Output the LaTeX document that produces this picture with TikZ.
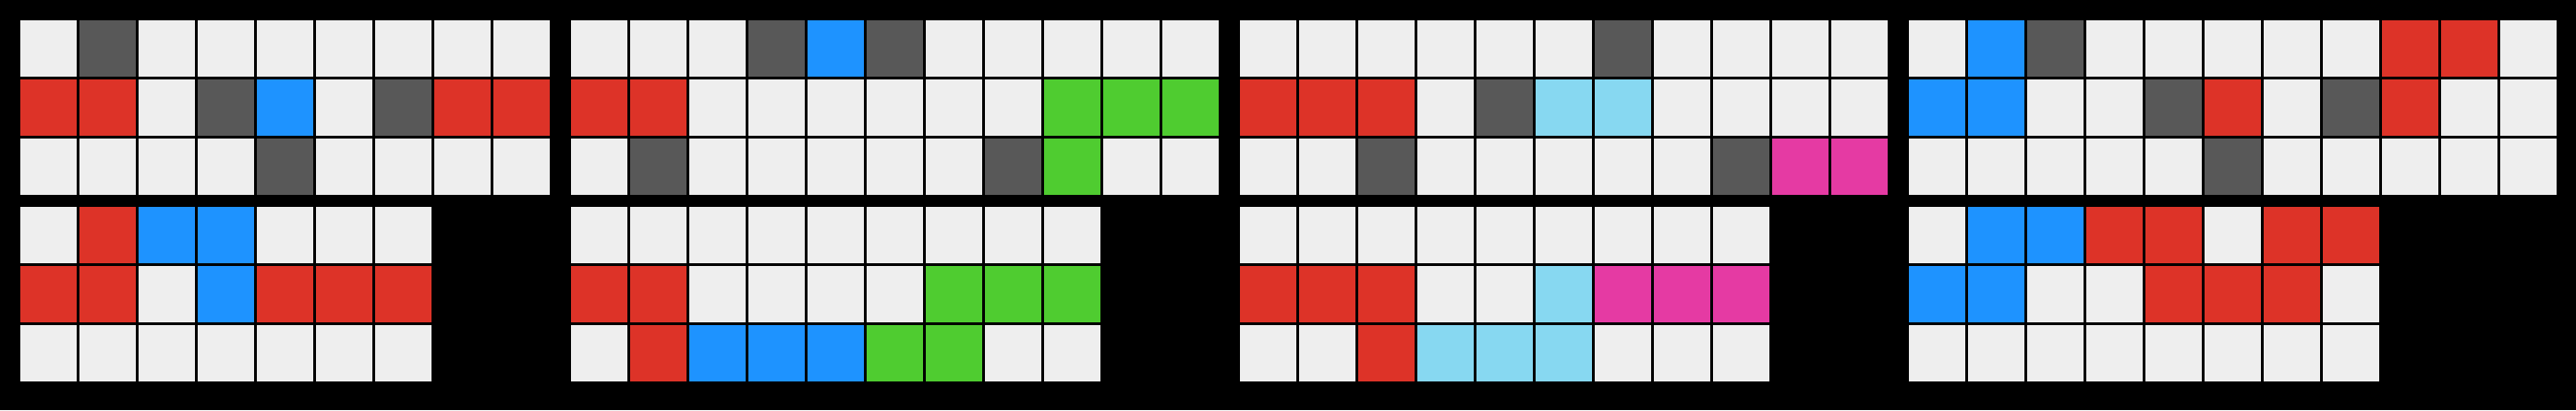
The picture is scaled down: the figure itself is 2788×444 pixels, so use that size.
\documentclass[tikz,border=0pt]{standalone}
\definecolor{cE}{HTML}{EEEEEE}
\definecolor{cD}{HTML}{585858}
\definecolor{cR}{HTML}{DD3328}
\definecolor{cB}{HTML}{1E93FF}
\definecolor{cG}{HTML}{4FCC30}
\definecolor{cL}{HTML}{87D8F1}
\definecolor{cM}{HTML}{E53AA3}
\newcommand\gridrow[3]{%
  \foreach \c [count=\i from 0] in {#3} {\fill[c\c] ({#1+64*\i},#2) rectangle ++(61,61);}}
\begin{document}
\begin{tikzpicture}[x=0.01cm,y=-0.01cm]
\useasboundingbox (0,0) rectangle (2788,444);
\fill[black] (0,0) rectangle (2788,444);
% panel 1 top
\gridrow{22}{22}{E,D,E,E,E,E,E,E,E}
\gridrow{22}{86}{R,R,E,D,B,E,D,R,R}
\gridrow{22}{150}{E,E,E,E,D,E,E,E,E}
% panel 1 bottom
\gridrow{22}{224}{E,R,B,B,E,E,E}
\gridrow{22}{288}{R,R,E,B,R,R,R}
\gridrow{22}{352}{E,E,E,E,E,E,E}
% panel 2 top
\gridrow{618}{22}{E,E,E,D,B,D,E,E,E,E,E}
\gridrow{618}{86}{R,R,E,E,E,E,E,E,G,G,G}
\gridrow{618}{150}{E,D,E,E,E,E,E,D,G,E,E}
% panel 2 bottom
\gridrow{618}{224}{E,E,E,E,E,E,E,E,E}
\gridrow{618}{288}{R,R,E,E,E,E,G,G,G}
\gridrow{618}{352}{E,R,B,B,B,G,G,E,E}
% panel 3 top
\gridrow{1342}{22}{E,E,E,E,E,E,D,E,E,E,E}
\gridrow{1342}{86}{R,R,R,E,D,L,L,E,E,E,E}
\gridrow{1342}{150}{E,E,D,E,E,E,E,E,D,M,M}
% panel 3 bottom
\gridrow{1342}{224}{E,E,E,E,E,E,E,E,E}
\gridrow{1342}{288}{R,R,R,E,E,L,M,M,M}
\gridrow{1342}{352}{E,E,R,L,L,L,E,E,E}
% panel 4 top
\gridrow{2066}{22}{E,B,D,E,E,E,E,E,R,R,E}
\gridrow{2066}{86}{B,B,E,E,D,R,E,D,R,E,E}
\gridrow{2066}{150}{E,E,E,E,E,D,E,E,E,E,E}
% panel 4 bottom
\gridrow{2066}{224}{E,B,B,R,R,E,R,R}
\gridrow{2066}{288}{B,B,E,E,R,R,R,E}
\gridrow{2066}{352}{E,E,E,E,E,E,E,E}
\end{tikzpicture}
\end{document}
